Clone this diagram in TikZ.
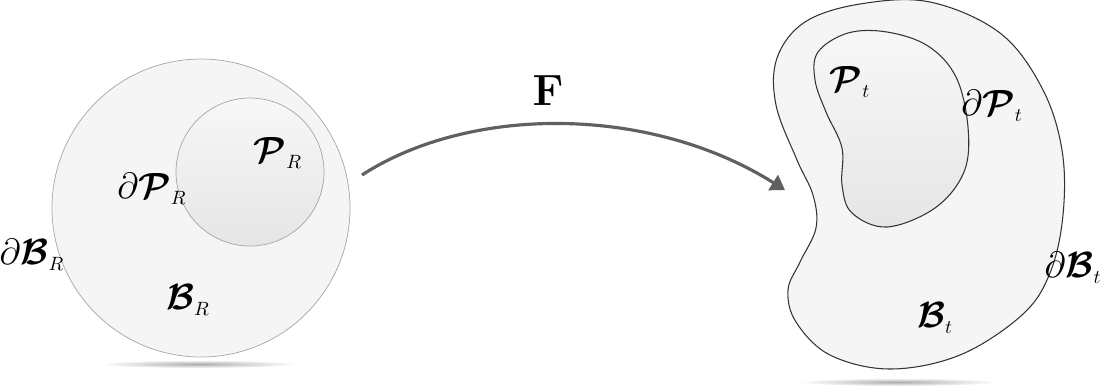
\documentclass[tikz,border=0pt]{standalone}
\usepackage{amsmath,amssymb,bm}
\usetikzlibrary{positioning,arrows.meta,calc}

\tikzset{
  lbl/.style={inner sep=0pt, font=\fontsize{22}{26}\selectfont},
  bodyfill/.style={fill=gray!8},
  partfill/.style={top color=gray!6, bottom color=gray!20},
  mapline/.style={draw=gray!75!black, line width=1.8pt, -{Triangle[length=8pt,width=10pt]}},
}

\begin{document}
\begin{tikzpicture}[x=0.02cm, y=-0.02cm]
        \useasboundingbox (0,0) rectangle (1103,387);

        % Schatten
        \shade[inner color=gray!65, outer color=white] (198,364) ellipse (100 and 4);
        \shade[inner color=gray!65, outer color=white] (898,382) ellipse (100 and 4);

        % Referenzkonfiguration
        \draw[gray!70, bodyfill] (201,208) circle (149);
        \draw[gray!70, partfill] (250,172) circle (74);

        % Momentankonfiguration
        \draw[black!80, bodyfill, line width=0.6pt] plot[smooth cycle, tension=0.6] coordinates
          {(930,2) (1000,33) (1042,88) (1062,150) (1063,215) (1050,273) (1022,315)
           (960,355) (890,369) (830,355) (796,322) (788,290) (800,262) (816,228)
           (813,195) (797,160) (776,105) (777,58) (805,22) (860,4)};
        \draw[black!80, partfill, line width=0.6pt] plot[smooth cycle, tension=0.6] coordinates
          {(887,32) (928,46) (956,77) (968,127) (964,172) (935,208) (887,227)
           (852,213) (842,185) (842,148) (826,112) (815,80) (818,52) (848,33)};

        % Beschriftungen
        \node[lbl] (PR)  at (278,153) {$\bm{\mathcal{P}}_{\scriptscriptstyle R}$};
        \node[lbl] (dPR) at (152,189) {$\partial\bm{\mathcal{P}}_{\scriptscriptstyle R}$};
        \node[lbl] (dBR) at (32,255)  {$\partial\bm{\mathcal{B}}_{\scriptscriptstyle R}$};
        \node[lbl] (BR)  at (188,300) {$\bm{\mathcal{B}}_{\scriptscriptstyle R}$};
        \node[lbl] (Pt)  at (850,82)  {$\bm{\mathcal{P}}_{\scriptscriptstyle t}$};
        \node[lbl] (dPt) at (992,106) {$\partial\bm{\mathcal{P}}_{\scriptscriptstyle t}$};
        \node[lbl] (dBt) at (1073,268) {$\partial\bm{\mathcal{B}}_{\scriptscriptstyle t}$};
        \node[lbl] (Bt)  at (935,318) {$\bm{\mathcal{B}}_{\scriptscriptstyle t}$};

        % Abbildung
        \coordinate (fstart) at (362,175);
        \coordinate (fend) at (785,190);
        \draw[mapline] (fstart) .. controls (470,105) and (650,105) .. (fend);
        \node[inner sep=0pt, font=\fontsize{26}{30}\selectfont] (F) at (548,90) {$\mathbf{F}$};
    \end{tikzpicture}
\end{document}
